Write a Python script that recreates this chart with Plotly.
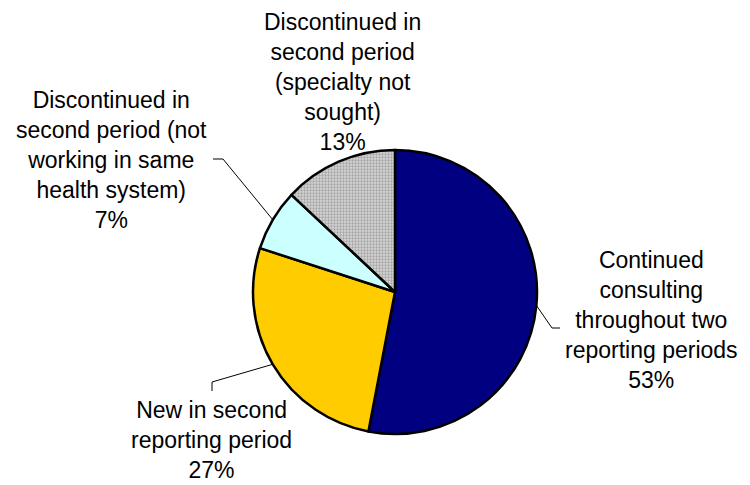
import math
import plotly.graph_objects as go

# Share of consultants by reporting-period status
categories = [
    "Continued<br>consulting<br>throughout two<br>reporting periods",
    "New in second<br>reporting period",
    "Discontinued in<br>second period (not<br>working in same<br>health system)",
    "Discontinued in<br>second period<br>(specialty not<br>sought)",
]
shares = [53, 27, 7, 13]
slice_colors = ["#000080", "#FFCC00", "#CCFFFF", "#C8C8C8"]

# Canvas and pie geometry (pixels)
W, H = 750, 485
CX, CY, R = 395, 292, 142

# Label block centres and leader-line elbows (pixels), per slice
label_pos = [(651, 320), (211, 440), (111, 160), (342, 82)]
leader_elbows = [
    [(552, 328), (560, 328)],
    [(212, 382), (212, 391)],
    [(223, 159), (213, 159)],
    None,
]


def px(x, y):
    return x / W, 1 - y / H


fig = go.Figure(
    go.Pie(
        values=shares,
        labels=[c.replace("<br>", " ") for c in categories],
        sort=False,
        direction="clockwise",
        rotation=0,
        textinfo="none",
        hoverinfo="label+percent",
        marker=dict(
            colors=slice_colors,
            line=dict(color="black", width=2.5),
            pattern=dict(
                shape=["", "", "", "."],
                fgcolor=["#000080", "#FFCC00", "#CCFFFF", "#A4A4A4"],
                bgcolor=["#000080", "#FFCC00", "#CCFFFF", "#D6D6D6"],
                size=3,
                solidity=0.45,
            ),
        ),
        domain=dict(
            x=[(CX - R) / W, (CX + R) / W],
            y=[1 - (CY + R) / H, 1 - (CY - R) / H],
        ),
        showlegend=False,
    )
)

total = sum(shares)
annotations = []
shapes = []
cum = 0
for i, (cat, v) in enumerate(zip(categories, shares)):
    mid = (cum + v / 2) / total * 2 * math.pi
    cum += v
    lx, ly = px(*label_pos[i])
    pct = round(v / total * 100)
    annotations.append(
        dict(
            x=lx, y=ly, xref="paper", yref="paper",
            xanchor="center", yanchor="middle", align="center",
            text=f"{cat}<br>{pct}%", showarrow=False,
            font=dict(family="Liberation Sans, Arial, sans-serif", size=23, color="black"),
        )
    )
    if leader_elbows[i]:
        ex, ey = CX + R * math.sin(mid), CY - R * math.cos(mid)
        pts = [(ex, ey)] + leader_elbows[i]
        path = " ".join(
            ("M" if k == 0 else "L") + f" {px(*p)[0]:.5f},{px(*p)[1]:.5f}"
            for k, p in enumerate(pts)
        )
        shapes.append(
            dict(type="path", path=path, xref="paper", yref="paper",
                 line=dict(color="black", width=1))
        )

fig.update_layout(
    width=W, height=H,
    margin=dict(l=0, r=0, t=0, b=0),
    paper_bgcolor="white",
    plot_bgcolor="white",
    annotations=annotations,
    shapes=shapes,
)

fig.write_html("out.html")
